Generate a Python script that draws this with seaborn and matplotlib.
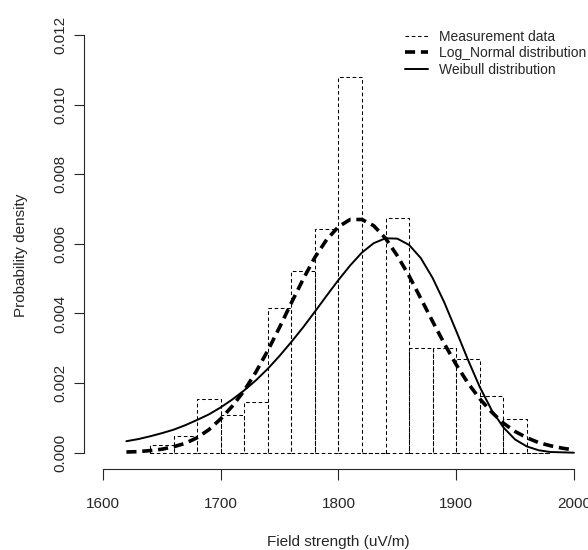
"""
Field strength histogram with fitted Log-normal and Weibull densities
"""

import numpy as np
import pandas as pd
import matplotlib
matplotlib.use('Agg')
import matplotlib.pyplot as plt
import seaborn as sns
from matplotlib.lines import Line2D

bin_edges = [1640, 1660, 1680, 1700, 1720, 1740, 1760, 1780, 1800, 1820,
             1840, 1860, 1880, 1900, 1920, 1940, 1960, 1980]
bin_density = [0.00023, 0.00049, 0.00155, 0.00107, 0.00147, 0.00415, 0.00522,
               0.00643, 0.01078, 0.0, 0.00675, 0.00300, 0.00300, 0.00268,
               0.00162, 0.00097, 0.0]

# Fitted curves, sampled every 10 uV/m
curve_x = [1620, 1630, 1640, 1650, 1660, 1670, 1680, 1690, 1700, 1710,
           1720, 1730, 1740, 1750, 1760, 1770, 1780, 1790, 1800, 1810,
           1820, 1830, 1840, 1850, 1860, 1870, 1880, 1890, 1900, 1910,
           1920, 1930, 1940, 1950, 1960, 1970, 1980, 1990, 2000]
lognormal_y = [0.00002, 0.00003, 0.00006, 0.00010, 0.00017, 0.00027, 0.00043,
               0.00066, 0.00097, 0.00134, 0.00178, 0.00232, 0.00293, 0.00360,
               0.00430, 0.00498, 0.00561, 0.00612, 0.00649, 0.00670, 0.00670,
               0.00652, 0.00616, 0.00566, 0.00508, 0.00443, 0.00377, 0.00313,
               0.00253, 0.00200, 0.00155, 0.00117, 0.00085, 0.00061, 0.00043,
               0.00029, 0.00020, 0.00013, 0.00008]
weibull_y = [0.00033, 0.00039, 0.00047, 0.00056, 0.00066, 0.00079, 0.00094,
             0.00110, 0.00130, 0.00153, 0.00179, 0.00208, 0.00241, 0.00278,
             0.00318, 0.00360, 0.00405, 0.00451, 0.00496, 0.00538, 0.00575,
             0.00602, 0.00616, 0.00615, 0.00597, 0.00559, 0.00502, 0.00431,
             0.00350, 0.00267, 0.00189, 0.00123, 0.00073, 0.00038, 0.00018,
             0.00007, 0.00002, 0.00001, 0.00000]

x_ticks = [1600, 1700, 1800, 1900, 2000]
y_ticks = [0.000, 0.002, 0.004, 0.006, 0.008, 0.010, 0.012]

sns.set_style('ticks')
plt.rcParams['font.family'] = ['Liberation Sans', 'DejaVu Sans']

fig = plt.figure(figsize=(5.88, 5.5), dpi=100)
ax = fig.add_axes([84 / 588, 1 - 469.4 / 550, (592.8 - 84) / 588, (469.4 - 18.3) / 550])

# Histogram (dashed outlines, no fill)
bins_df = pd.DataFrame({
    'mid': [(a + b) / 2 for a, b in zip(bin_edges[:-1], bin_edges[1:])],
    'density': bin_density,
})
sns.histplot(data=bins_df, x='mid', weights='density', bins=bin_edges,
             stat='count', fill=False, element='bars', color='black',
             linewidth=0.75, linestyle=(0, (3.5, 2.5)), ax=ax)

curves_df = pd.DataFrame({'x': curve_x, 'lognormal': lognormal_y, 'weibull': weibull_y})
sns.lineplot(data=curves_df, x='x', y='lognormal', color='black', linewidth=2.6,
             linestyle=(0, (2.8, 1.6)), ax=ax)
sns.lineplot(data=curves_df, x='x', y='weibull', color='black', linewidth=1.4, ax=ax)

ax.set_xlim(1584, 2016)
ax.set_ylim(-0.00048, 0.01248)
ax.set_xticks(x_ticks)
ax.set_xticklabels([str(t) for t in x_ticks])
ax.set_yticks(y_ticks)
ax.set_yticklabels([f'{t:.3f}' for t in y_ticks], rotation=90, va='center')
ax.tick_params(axis='x', length=8, width=0.8, pad=12, labelsize=11)
ax.tick_params(axis='y', length=7, width=0.8, pad=5, labelsize=11)

sns.despine(ax=ax)
ax.spines['left'].set_bounds(0, 0.012)
ax.spines['bottom'].set_bounds(1600, 2000)
ax.spines['left'].set_linewidth(0.8)
ax.spines['bottom'].set_linewidth(0.8)

ax.set_xlabel('Field strength (uV/m)', fontsize=11)
ax.set_ylabel('Probability density', fontsize=11)
ax.xaxis.label.set_va('center')
ax.yaxis.label.set_va('center')
ax.xaxis.set_label_coords(0.5006, -0.160)
ax.yaxis.set_label_coords(-0.1238, 0.475)

handles = [
    Line2D([], [], color='black', linewidth=0.75, linestyle=(0, (3.5, 2.5))),
    Line2D([], [], color='black', linewidth=2.6, linestyle=(0, (2.8, 1.6))),
    Line2D([], [], color='black', linewidth=1.4),
]
labels = ['Measurement data', 'Log_Normal distribution', 'Weibull distribution']
fig.legend(handles, labels, loc='upper left', bbox_to_anchor=(405 / 588, 1 - 30 / 550),
           frameon=False, fontsize=10, handlelength=1.65, handletextpad=0.8,
           labelspacing=0.17, borderpad=0, borderaxespad=0)

fig.savefig('out.png', dpi=100)
